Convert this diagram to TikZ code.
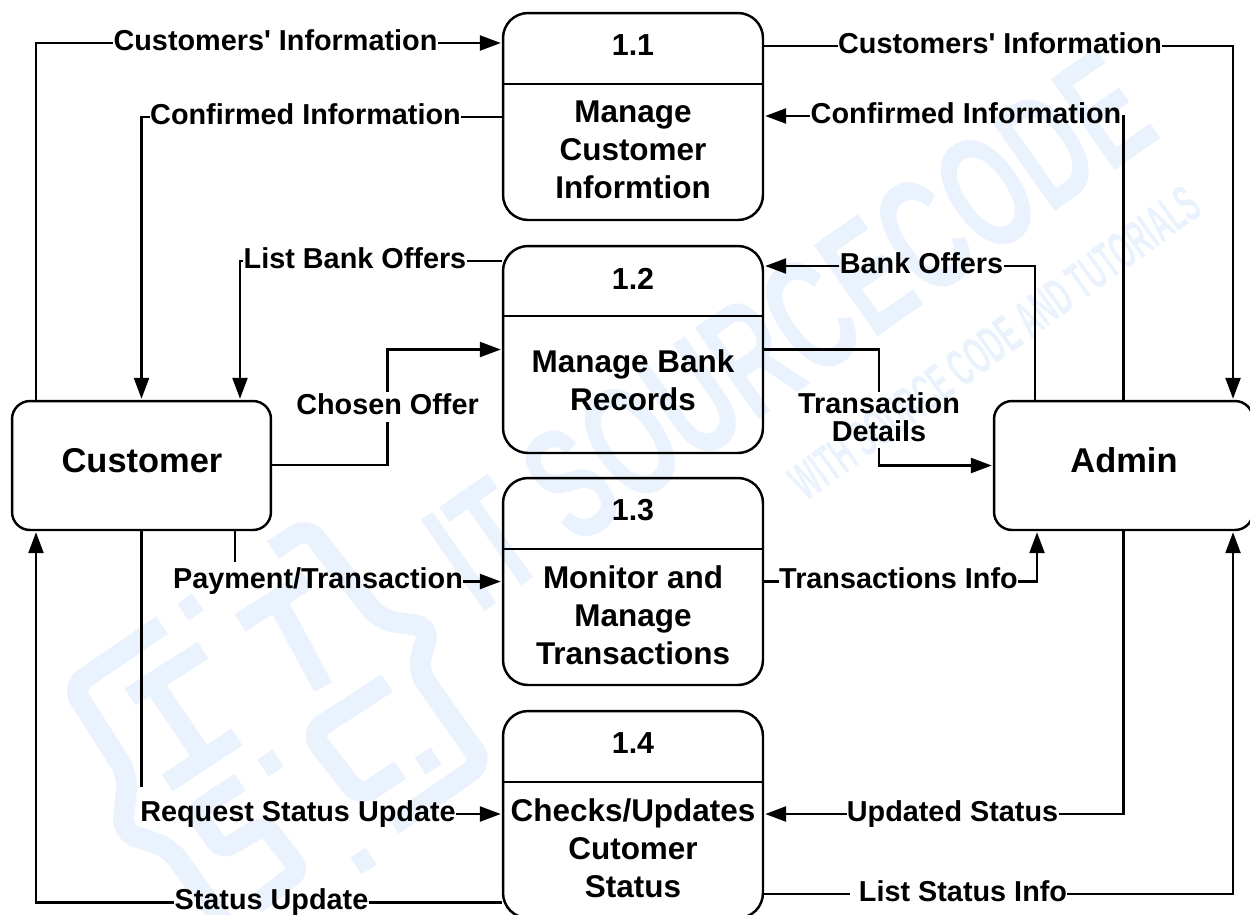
\documentclass[tikz,border=0pt]{standalone}
\usepackage{fontspec}
\setmainfont{Liberation Sans}
\usepackage{xcolor}
\usetikzlibrary{arrows.meta,positioning,calc}
\definecolor{wmark}{HTML}{E9F2FD}
\tikzset{
	ln/.style={line width=1.4pt},
	arr/.style={ln,-{Triangle[length=0.42cm,width=0.3cm]},shorten >=0.02cm},
	procbox/.style={draw,ln,rounded corners=0.5cm,minimum width=5.2cm,minimum height=4.14cm,inner sep=0},
	entity/.style={draw,ln,rounded corners=0.36cm,minimum width=5.18cm,minimum height=2.58cm},
	etext/.style={font=\bfseries\fontsize{19.6}{22}\selectfont},
	lbl/.style={inner xsep=0,inner ysep=0,text height=0.35cm,text depth=0.07cm,font=\bfseries\fontsize{16.4}{18}\selectfont},
	ptitle/.style={font=\bfseries\fontsize{17.3}{19}\selectfont},
	pbody/.style={align=center,font=\bfseries\fontsize{17.9}{21.6}\selectfont},
	wmstroke/.style={line width=12pt,rounded corners=0.3cm},
	wmletter/.style={line width=11.5pt},
}
\begin{document}
\begin{tikzpicture}[x=0.02cm,y=-0.02cm]
	\useasboundingbox (0,0) rectangle (1250,914);
	\clip (0,0) rectangle (1250,914);

	% watermark
	\begin{scope}[wmark]
		\node[rotate=35,xscale=0.62,font=\bfseries\fontsize{92}{92}\selectfont] (wmTitle) at (790,330) {IT SOURCECODE};
		\node[rotate=36,xscale=0.5,font=\bfseries\fontsize{30}{30}\selectfont] (wmTag) at (995,343) {WITH SOURCE CODE AND TUTORIALS};
		% logo
		\draw[wmstroke] (162,625) -- (72,687) -- (128,775) -- (122,832) -- (170,848) -- (225,925);
		\draw[wmstroke] (273,550) -- (307,527) -- (380,620) -- (430,627) -- (417,670) -- (483,763) -- (393,825);
		\draw[wmstroke] (387,683) -- (310,733) -- (360,797) -- (400,770);
		\draw[wmletter] (203,650) -- (130,697);
		\draw[wmletter] (153,683) -- (203,757);
		\draw[wmletter] (237,737) -- (167,783);
		\draw[wmletter] (240,623) -- (307,580);
		\draw[wmletter] (278,603) -- (323,687);
		\draw[wmletter,rounded corners=0.2cm] (240,782) -- (195,812) -- (222,850) -- (265,825) -- (300,870) -- (255,905);
		\draw[wmletter] (183,612) -- (198,602);
		\draw[wmletter] (263,768) -- (278,758);
		\draw[wmletter] (420,766) -- (436,756);
		\draw[wmletter] (356,866) -- (371,856);
	\end{scope}

	% processes
	\node[procbox] (p1) at (633,116.5) {};
	\node[procbox] (p2) at (633,349.5) {};
	\node[procbox] (p3) at (633,581.5) {};
	\node[procbox] (p4) at (633,814.5) {};
	\draw[ln] (p1.west |- 0,84) -- (p1.east |- 0,84);
	\draw[ln] (p2.west |- 0,316) -- (p2.east |- 0,316);
	\draw[ln] (p3.west |- 0,549) -- (p3.east |- 0,549);
	\draw[ln] (p4.west |- 0,782) -- (p4.east |- 0,782);
	\node[ptitle] (t1) at (633,45.5) {1.1};
	\node[ptitle] (t2) at (633,278.5) {1.2};
	\node[ptitle] (t3) at (633,510.5) {1.3};
	\node[ptitle] (t4) at (633,743.5) {1.4};
	\node[pbody] (b1) at (633,150) {Manage\\Customer\\Informtion};
	\node[pbody] (b2) at (633,380) {Manage Bank\\Records};
	\node[pbody] (b3) at (633,615) {Monitor and\\Manage\\Transactions};
	\node[pbody] (b4) at (633,848) {Checks/Updates\\Cutomer\\Status};

	% external entities
	\node[entity] (cust) at (141.5,465.5) {};
	\node[entity] (admin) at (1123.5,465.5) {};
	\node[etext] (custName) at (142,460.5) {Customer};
	\node[etext] (adminName) at (1124,460.5) {Admin};

	% labels, each centred on the height of its line
	\node[lbl] (lCustInfoA) at (275.5,43) {Customers\textquotesingle{} Information};
	\node[lbl] (lConfA) at (305.5,117) {Confirmed Information};
	\node[lbl] (lList) at (355,261) {List Bank Offers};
	\node[lbl] (lChosen) at (387.5,407) {Chosen Offer};
	\node[lbl] (lPay) at (318,581.5) {Payment/Transaction};
	\node[lbl] (lReq) at (298,814) {Request Status Update};
	\node[lbl] (lStat) at (271.5,902.5) {Status Update};
	\node[lbl] (lCustInfoB) at (1000,46) {Customers\textquotesingle{} Information};
	\node[lbl] (lConfB) at (966,116) {Confirmed Information};
	\node[lbl] (lOffers) at (921.5,266) {Bank Offers};
	\node[lbl,align=center,text height=,text depth=,font=\bfseries\fontsize{16.4}{16}\selectfont] (lTrans) at (879,417) {Transaction\\Details};
	\node[lbl] (lInfo) at (898.5,581.5) {Transactions Info};
	\node[lbl] (lUpd) at (952.5,814) {Updated Status};
	\node[lbl] (lListS) at (963,894) {List Status Info};

	% connectors on the customer side
	\draw[ln] (cust.north -| 36,0) |- (lCustInfoA.west);
	\draw[arr] (lCustInfoA.east) -- (p1.west |- lCustInfoA.east);
	\draw[ln] (p1.west |- lConfA) -- (lConfA.east);
	\draw[arr] (lConfA.west) -| (cust.north);
	\draw[ln] (p2.west |- lList) -- (lList.east);
	\draw[arr] (lList.west) -| (cust.north -| 240,0);
	\draw[ln] (cust.east) ++(0,-0.5) -| ([yshift=-0.08cm]lChosen.south);
	\draw[arr] ([yshift=0.08cm]lChosen.north) |- (p2.west);
	\draw[ln] (cust.south -| 235,0) -- ([yshift=0.18cm]lPay.north -| 235,0);
	\draw[arr] (lPay.east) -- (p3.west |- lPay.east);
	\draw[ln] (cust.south) -- ([yshift=0.32cm]lReq.north -| cust.south);
	\draw[arr] (lReq.east) -- (p4.west |- lReq.east);
	\draw[ln] (p4.west |- lStat) -- (lStat.east);
	\draw[arr] (lStat.west) -| (cust.south -| 36,0);

	% connectors on the admin side
	\draw[ln] (p1.east |- lCustInfoB) -- (lCustInfoB.west);
	\draw[arr] (lCustInfoB.east) -| (admin.north -| 1233,0);
	\draw[ln] (admin.north) |- (lConfB.east);
	\draw[arr] (lConfB.west) -- (p1.east |- lConfB);
	\draw[ln] (admin.north -| 1035,0) |- (lOffers.east);
	\draw[arr] (lOffers.west) -- (p2.east |- lOffers);
	\draw[ln] (p2.east) -| (lTrans.north);
	\draw[arr] ([yshift=-0.12cm]lTrans.south) |- (admin.west);
	\draw[ln] (p3.east |- lInfo) -- (lInfo.west);
	\draw[arr] (lInfo.east) -| (admin.south -| 1037,0);
	\draw[ln] (admin.south) |- (lUpd.east);
	\draw[arr] (lUpd.west) -- (p4.east |- lUpd);
	\draw[ln] (p4.east |- lListS) -- ([xshift=-0.18cm]lListS.west);
	\draw[arr] (lListS.east) -| (admin.south -| 1233,0);
\end{tikzpicture}
\end{document}
